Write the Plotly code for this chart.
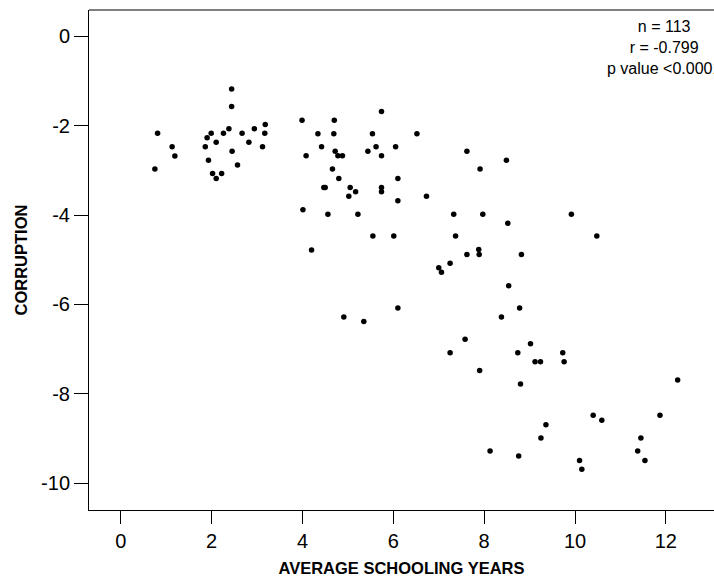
import plotly.graph_objects as go

schooling = [
    2.44, 2.44, 0.81, 3.18, 2.94, 3.17, 2.38, 2.26, 2.67, 1.99,
    1.90, 2.10, 2.82, 1.86, 1.13, 3.12, 1.19, 2.45, 1.93, 2.57,
    0.75, 2.02, 2.22, 2.10,
    5.74, 3.99, 4.70, 4.34, 4.69, 5.54, 6.52, 4.42, 5.62, 6.05,
    4.72, 5.44, 4.08, 4.78, 4.88, 5.74, 4.66, 4.80, 6.10, 4.47,
    4.50, 5.05, 5.74, 5.17, 5.74, 5.02, 6.10, 6.73, 4.01, 4.56,
    5.22,
    5.55, 6.01, 4.20, 7.00, 7.06, 7.25, 6.10, 4.91, 5.35,
    7.62, 8.49, 7.91, 7.33, 7.97, 9.92, 8.52, 7.37, 7.62, 7.88,
    7.89, 8.82, 10.48,
    8.54, 8.78, 8.38, 7.58, 9.02, 7.25, 8.74, 9.73, 9.12, 9.24,
    9.76, 7.90,
    8.80, 12.26, 10.40, 10.59, 11.87, 9.36, 9.25, 11.45, 8.13, 11.38,
    8.76, 10.10, 11.54, 10.15,
]
corruption = [
    -1.18, -1.57, -2.17, -1.97, -2.07, -2.17, -2.07, -2.17, -2.17, -2.17,
    -2.27, -2.37, -2.37, -2.47, -2.47, -2.47, -2.68, -2.57, -2.77, -2.88,
    -2.97, -3.07, -3.07, -3.18,
    -1.68, -1.88, -1.88, -2.18, -2.18, -2.18, -2.18, -2.47, -2.47, -2.47,
    -2.57, -2.57, -2.67, -2.67, -2.67, -2.67, -2.97, -3.18, -3.18, -3.38,
    -3.38, -3.38, -3.38, -3.48, -3.48, -3.58, -3.68, -3.58, -3.88, -3.98,
    -3.98,
    -4.47, -4.47, -4.78, -5.18, -5.28, -5.08, -6.08, -6.28, -6.38,
    -2.57, -2.77, -2.97, -3.98, -3.98, -3.98, -4.18, -4.47, -4.88, -4.77,
    -4.88, -4.88, -4.47,
    -5.58, -6.08, -6.28, -6.78, -6.88, -7.08, -7.08, -7.08, -7.28, -7.28,
    -7.28, -7.48,
    -7.78, -7.69, -8.48, -8.59, -8.48, -8.69, -8.99, -8.99, -9.28, -9.28,
    -9.39, -9.49, -9.49, -9.69,
]

x_ticks = [0, 2, 4, 6, 8, 10, 12]
x_tick_labels = ["0", "2", "4", "6", "8", "10", "12"]
y_ticks = [0, -2, -4, -6, -8, -10]
y_tick_labels = ["0", "-2", "-4", "-6", "-8", "-10"]
stats_text = ["n = 113", "r = -0.799", "p value <0.0001"]

FONT = "Arial, Liberation Sans, sans-serif"

fig = go.Figure()
fig.add_trace(go.Scatter(
    x=schooling, y=corruption, mode="markers",
    marker=dict(color="black", size=5.5),
    hoverinfo="skip", showlegend=False,
))

fig.update_layout(
    width=714, height=578,
    margin=dict(l=89, r=0, t=10, b=68),
    paper_bgcolor="white", plot_bgcolor="white",
    font=dict(family=FONT, color="black"),
    xaxis=dict(
        range=[-0.70, 13.06], tickvals=x_ticks, ticktext=x_tick_labels,
        ticks="outside", ticklen=13,
        tickcolor="black", tickwidth=1, showline=True, linecolor="black",
        linewidth=1, showgrid=False, zeroline=False,
        tickfont=dict(size=20, family=FONT),
        title=dict(text="<b>AVERAGE SCHOOLING YEARS</b>",
                   font=dict(size=16.5, family=FONT), standoff=11),
    ),
    yaxis=dict(
        range=[-10.60, 0.59], tickvals=y_ticks, ticktext=y_tick_labels,
        ticks="outside", ticklen=14,
        tickcolor="black", tickwidth=1, showline=True, linecolor="black",
        linewidth=1, showgrid=False, zeroline=False,
        tickfont=dict(size=20, family=FONT),
        title=dict(text="<b>CORRUPTION</b>",
                   font=dict(size=16.5, family=FONT), standoff=9),
    ),
    shapes=[dict(type="line", xref="paper", yref="paper", x0=0, x1=1,
                 y0=1, y1=1, line=dict(color="black", width=1))],
    annotations=[dict(
        text="<br>".join(stats_text), xref="x", yref="y",
        x=11.96, y=0.45, xanchor="center", yanchor="top", align="center",
        showarrow=False, font=dict(size=16, family=FONT, color="black"),
    )],
)

fig.write_html("out.html")
